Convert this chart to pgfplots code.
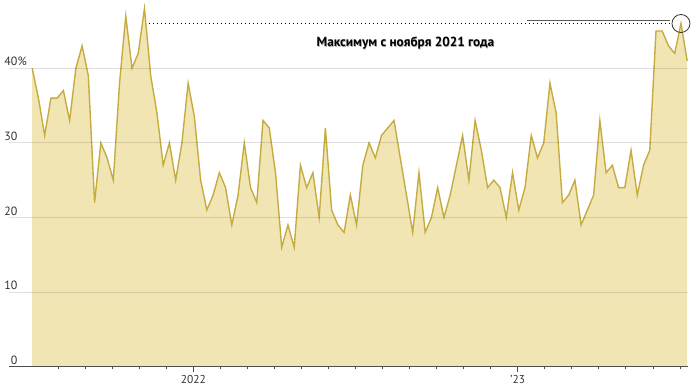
\documentclass[border=0pt]{standalone}
\usepackage{pgfplots}
\pgfplotsset{compat=1.18}
\usepackage{pgfplotstable}
\usepackage{fontspec}
\setmainfont{PT Sans}
\definecolor{fillc}{RGB}{241,229,179}
\definecolor{linec}{RGB}{198,172,64}
\definecolor{txt}{RGB}{51,51,51}
\pgfplotstableread{
v
40
36
31
36
36
37
33
40
43
39
22
30
28
25
38
47
40
42
48
39
34
27
30
25
30
38
33.5
25
21
23
26
24
19
23
30
24
22
33
32
26
16
19
16
27
24
26
20
32
21
19
18
23
19
27
30
28
31
32
33
28
23
18
26
18
20
24
20
23
27
31
25
33
29
24
25
24
20
26
21
24
31
28
30
38
34
22
23
25
19
21
23
33
26
27
24
24
29
23
27
29
45
45
43
42
46
41
}\data
\begin{document}
\begin{tikzpicture}
\useasboundingbox (0,0) rectangle (700bp,390bp);
\begin{axis}[
  at={(9.3bp,23.3bp)}, anchor=south west,
  scale only axis, width=678.7bp, height=366.7bp,
  xmin=-6.807, xmax=18.30, ymin=0, ymax=49.15,
  axis x line*=bottom, axis y line*=left,
  y axis line style={draw=none},
  x axis line style={draw=black!70, line width=0.9bp, -},
  ytick style={draw=none},
  ymajorgrids,
  grid style={black, opacity=0.12, line width=1bp},
  axis on top,
  xtick={0,12}, xticklabels={2022,’23},
  minor xtick={-5,...,18},
  tick align=outside,
  xtick style={black!70, line width=0.7bp},
  major tick length=5bp, minor tick length=2.5bp,
  xticklabel style={font=\fontsize{11.5}{12}\selectfont, text=txt},
  ytick={0,10,20,30,40}, yticklabels={0,10,20,30,40\rlap{\%}},
  yticklabel style={anchor=south east, inner sep=0pt, xshift=13.4bp, yshift=2bp, font=\fontsize{12}{12}\selectfont, text=txt},
  clip=false,
]
\addplot[draw=none, fill=fillc] table[x expr=\coordindex*12/52-5.96, y=v] {\data} \closedcycle;
\addplot[linec, line width=1.4bp] table[x expr=\coordindex*12/52-5.96, y=v] {\data};
\addplot[black, line width=1.4bp, dash pattern=on 1.3bp off 2.7bp] coordinates {(-1.64,46) (17.64,46)};
\draw[black!65, line width=0.7bp] (axis cs:12.36,46.45) -- (axis cs:17.64,46.45);
\addplot[only marks, mark=o, mark size=9bp, mark options={draw=txt, line width=0.8bp}] coordinates {(18.04,46)};
\node[anchor=base, text=black!30, font=\bfseries\fontsize{13.3}{14}\selectfont] at ([shift={(0.6bp,-0.8bp)}]axis cs:7.85,42.9) {Максимум с ноября 2021 года};
\node[anchor=base, text=black, font=\bfseries\fontsize{13.3}{14}\selectfont] at (axis cs:7.85,42.9) {Максимум с ноября 2021 года};
\end{axis}
\end{tikzpicture}
\end{document}
